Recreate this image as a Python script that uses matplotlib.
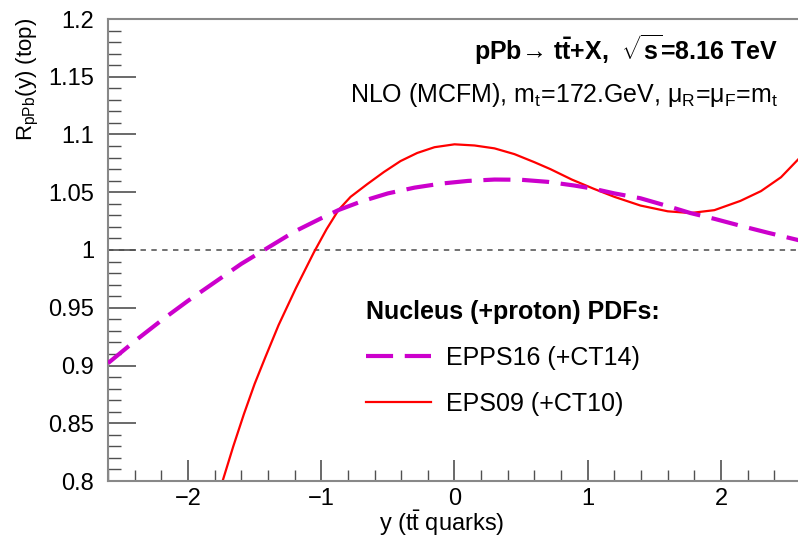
import numpy as np
import matplotlib
matplotlib.use('Agg')
import matplotlib.pyplot as plt
from matplotlib.ticker import MultipleLocator, FuncFormatter

plt.rcParams['font.family'] = ['Liberation Sans', 'DejaVu Sans']
plt.rcParams['mathtext.fontset'] = 'custom'
plt.rcParams['mathtext.rm'] = 'Liberation Sans'
plt.rcParams['mathtext.it'] = 'Liberation Sans:italic'
plt.rcParams['mathtext.bf'] = 'Liberation Sans:bold'

# EPPS16 (+CT14)
y_epps = [-2.60, -2.40, -2.20, -2.00, -1.80, -1.60, -1.40, -1.20, -1.00, -0.868,
          -0.70, -0.50, -0.30, -0.10, 0.10, 0.30, 0.50, 0.70, 0.90, 1.045,
          1.20, 1.395, 1.60, 1.77, 1.95, 2.145, 2.35, 2.60]
r_epps = [0.902, 0.921, 0.939, 0.956, 0.972, 0.988, 1.002, 1.016, 1.0275, 1.0347,
          1.042, 1.049, 1.054, 1.0575, 1.0598, 1.061, 1.0608, 1.059, 1.0558, 1.053,
          1.049, 1.0448, 1.038, 1.032, 1.027, 1.021, 1.015, 1.008]

# EPS09 (+CT10)
y_eps = [-1.80, -1.74, -1.66, -1.58, -1.50, -1.42, -1.32, -1.19, -1.055, -0.96,
         -0.87, -0.78, -0.655, -0.53, -0.405, -0.28, -0.15, 0.0, 0.15, 0.30,
         0.45, 0.60, 0.72, 0.88, 1.045, 1.20, 1.395, 1.60, 1.77, 1.95,
         2.145, 2.30, 2.45, 2.60]
r_eps = [0.778, 0.800, 0.830, 0.858, 0.884, 0.907, 0.935, 0.967, 0.998, 1.018,
         1.0347, 1.046, 1.057, 1.0675, 1.077, 1.084, 1.089, 1.0915, 1.0905, 1.088,
         1.083, 1.076, 1.070, 1.061, 1.053, 1.046, 1.0385, 1.0335, 1.032, 1.0345,
         1.0425, 1.051, 1.063, 1.081]

W, H = 798, 539
fig = plt.figure(figsize=(W / 100, H / 100), dpi=100)
ax = fig.add_axes([108 / W, 1 - 481 / H, 693 / W, 462 / H])

ax.axhline(1.0, color='#666666', lw=1.3, ls=(0, (3, 3)), zorder=1)
l1, = ax.plot(y_epps, r_epps, color='#cc00cc', lw=3.0, ls=(0, (6.5, 2.8)),
              label='EPPS16 (+CT14)', zorder=3)
l2, = ax.plot(y_eps, r_eps, color='#ff0000', lw=1.6,
              label='EPS09 (+CT10)', zorder=2)

ax.set_xlim(-2.6, 2.6)
ax.set_ylim(0.8, 1.2)

ax.xaxis.set_major_locator(MultipleLocator(1))
ax.xaxis.set_minor_locator(MultipleLocator(0.2))
ax.yaxis.set_major_locator(MultipleLocator(0.05))
ax.yaxis.set_minor_locator(MultipleLocator(0.01))
ax.yaxis.set_major_formatter(FuncFormatter(lambda v, p: '%g' % round(v, 3)))

ax.tick_params(which='both', direction='in', top=False, right=False,
               color='#505050', labelsize=17)
ax.tick_params(axis='y', which='major', length=20, width=1.2, pad=10)
ax.tick_params(axis='y', which='minor', length=9, width=1.0)
ax.tick_params(axis='x', which='major', length=15, width=1.2, pad=5)
ax.tick_params(axis='x', which='minor', length=8, width=1.0)
for s in ax.spines.values():
    s.set_color('#888888')
    s.set_linewidth(1.5)
ax.spines['right'].set_visible(False)

fig.text(28 / W, 1 - 18 / H, r'R$_\mathrm{pPb}$(y) (top)', rotation=90,
         ha='center', va='top', fontsize=16)
fig.text(442 / W, 1 - 523 / H, r'y (t$\bar{\mathrm{t}}$ quarks)',
         ha='center', va='center', fontsize=17)

fig.text(778 / W, 1 - 50 / H,
         'pPb\u2192 $\\mathbf{t\\bar{t}}$+X,  $\\sqrt{\\mathbf{s}}$=8.16 TeV',
         ha='right', va='center', fontsize=18, fontweight='bold')
fig.text(778 / W, 1 - 95 / H,
         'NLO (MCFM), m$_\\mathrm{t}$=172.GeV, \u03bc$_\\mathrm{R}$=\u03bc$_\\mathrm{F}$=m$_\\mathrm{t}$',
         ha='right', va='center', fontsize=18)

leg = ax.legend(handles=[l1, l2], title='Nucleus (+proton) PDFs:',
                loc='upper left', bbox_to_anchor=(366 / W, 1 - 300 / H),
                bbox_transform=fig.transFigure, frameon=False, fontsize=18,
                title_fontproperties={'weight': 'bold', 'size': 18},
                handlelength=2.6, handletextpad=0.6, labelspacing=0.87,
                borderpad=0, borderaxespad=0)
leg._legend_box.align = 'left'

fig.savefig('out.png', dpi=100)
